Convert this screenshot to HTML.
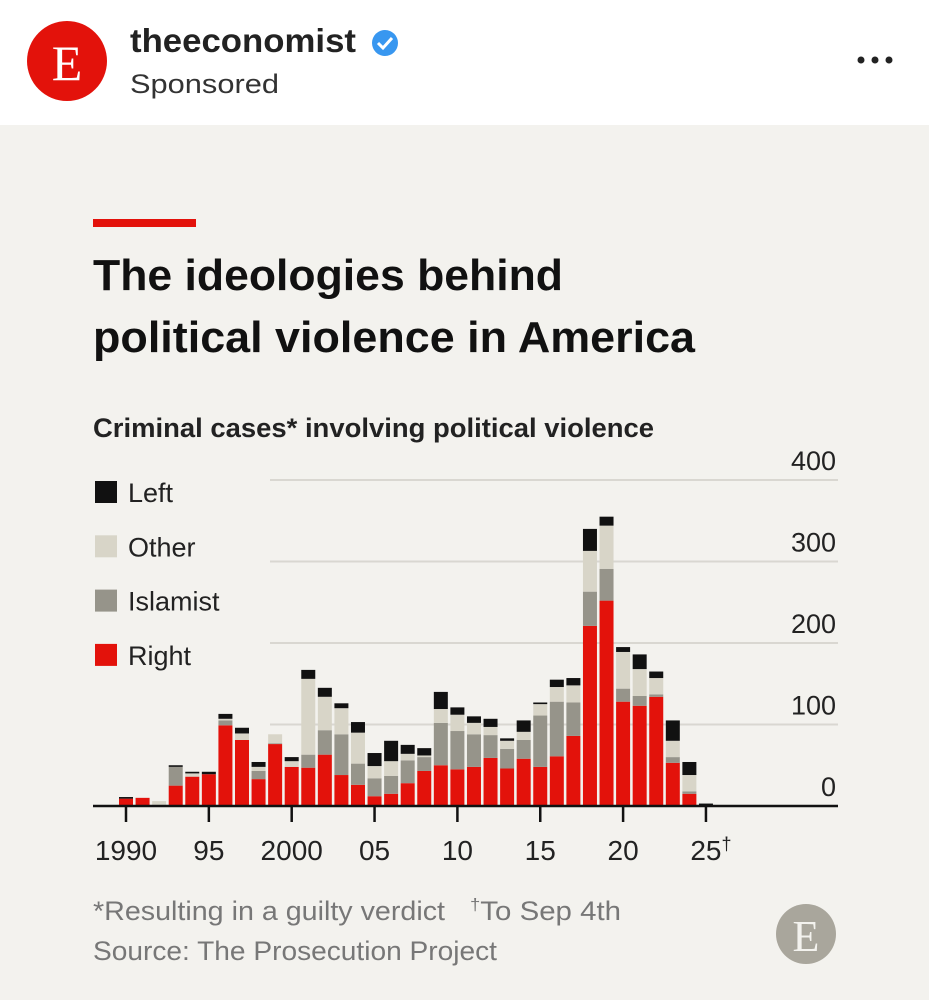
<!DOCTYPE html>
<html><head><meta charset="utf-8"><style>
html,body{margin:0;padding:0;background:#fff}
svg{display:block}
text{font-family:"Liberation Sans",sans-serif}
</style></head><body>
<svg width="929" height="1000" viewBox="0 0 929 1000" xmlns="http://www.w3.org/2000/svg">
<rect x="0" y="0" width="929" height="125" fill="#fff"/>
<g>
<circle cx="67" cy="61" r="40" fill="#e3120b"/>
<text x="67" y="80" text-anchor="middle" font-family="Liberation Serif" font-size="50" fill="#fff" style="font-family:'Liberation Serif',serif">E</text>
</g>
<text x="130" y="52" font-size="33" font-weight="bold" fill="#222" textLength="226" lengthAdjust="spacingAndGlyphs">theeconomist</text>
<g><circle cx="385" cy="43" r="13" fill="#3897f0"/><path d="M378 43 l5 5 l9 -10" stroke="#fff" stroke-width="3" fill="none"/></g>
<text x="130" y="93" font-size="27" fill="#333" textLength="149" lengthAdjust="spacingAndGlyphs">Sponsored</text>
<g fill="#222"><circle cx="861" cy="60" r="3.5"/><circle cx="875" cy="60" r="3.5"/><circle cx="889" cy="60" r="3.5"/></g>
<rect x="0" y="125" width="929" height="875" fill="#f3f2ee"/>
<rect x="93" y="219" width="103" height="8" fill="#e3120b"/>
<text x="93" y="290" font-size="44" font-weight="bold" fill="#111" textLength="470" lengthAdjust="spacingAndGlyphs">The ideologies behind</text>
<text x="93" y="352" font-size="44" font-weight="bold" fill="#111" textLength="602" lengthAdjust="spacingAndGlyphs">political violence in America</text>
<text x="93" y="437" font-size="27" font-weight="bold" fill="#222" textLength="561" lengthAdjust="spacingAndGlyphs">Criminal cases* involving political violence</text>
<g id="legend"></g>
<g id="grid"></g>
<g id="bars"></g>
<g id="xaxis"></g>
<text x="93" y="920" font-size="27" fill="#777" textLength="352" lengthAdjust="spacingAndGlyphs">*Resulting in a guilty verdict</text>
<text x="470" y="920" font-size="27" fill="#777" textLength="151" lengthAdjust="spacingAndGlyphs"><tspan font-size="17" dy="-10">†</tspan><tspan dy="10">To Sep 4th</tspan></text>
<text x="93" y="960" font-size="27" fill="#777" textLength="404" lengthAdjust="spacingAndGlyphs">Source: The Prosecution Project</text>
<g><circle cx="806" cy="934" r="30" fill="#a9a69c"/><text x="806" y="951" text-anchor="middle" font-size="44" fill="#f3f2ee" style="font-family:'Liberation Serif',serif">E</text></g>
</svg>
<script>
const years=[1990,1991,1992,1993,1994,1995,1996,1997,1998,1999,2000,2001,2002,2003,2004,2005,2006,2007,2008,2009,2010,2011,2012,2013,2014,2015,2016,2017,2018,2019,2020,2021,2022,2023,2024,2025];
const right=[9,10,0,25,36,39,99,81,33,76,48,47,63,38,26,12,15,28,43,50,45,48,59,46,58,48,61,86,221,252,128,123,134,53,15,0];
const islamist=[0,0,0,23,0,0,6,0,10,1,0,16,30,50,26,22,22,28,17,52,47,40,28,24,23,63,67,41,42,39,16,12,3,7,3,0];
const other=[0,0,6,0,4,0,2,8,5,11,7,93,41,32,38,15,18,8,2,17,20,14,10,10,10,14,18,21,50,53,45,33,20,20,20,0];
const left=[2,0,0,2,2,3,6,7,6,0,5,11,11,6,13,16,25,11,9,21,9,8,10,3,14,2,9,9,27,11,6,18,8,25,16,3];
const yTicks=[0,100,200,300,400];
const xTickYears=[1990,1995,2000,2005,2010,2015,2020,2025];
const xTickLabels=["1990","95","2000","05","10","15","20","25†"];
const legendNames=["Left","Other","Islamist","Right"];
const colors={Left:"#111111",Other:"#d8d5c8",Islamist:"#96948a",Right:"#e3120b"};
const NS="http://www.w3.org/2000/svg";
const x=yr=>126+(yr-1990)*16.57;
const y=v=>806-v*0.815;
function mk(tag,attrs,parent){const e=document.createElementNS(NS,tag);for(const k in attrs)e.setAttribute(k,attrs[k]);parent.appendChild(e);return e;}
const grid=document.getElementById('grid');
yTicks.forEach(t=>{
 if(t>0){const l=mk('line',{x1:270,x2:838,y1:y(t),y2:y(t),stroke:'#d9d7d1','stroke-width':2},grid);
 
 }
 const tx=mk('text',{x:836,y:y(t)-10,'text-anchor':'end','font-size':27,fill:'#222'},grid);
 tx.textContent=t;
 
 
});
const bars=document.getElementById('bars');
years.forEach((yr,i)=>{
 let base=0;
 [["Right",right],["Islamist",islamist],["Other",other],["Left",left]].forEach(([n,arr])=>{
  const v=arr[i]; if(!v)return;
  const r=mk('rect',{x:x(yr)-7,width:14,y:y(base+v),height:v*0.815,fill:colors[n]},bars);
  
  
  base+=v;
 });
});
const xa=document.getElementById('xaxis');
const ax=mk('line',{x1:93,x2:838,y1:806,y2:806,stroke:'#111','stroke-width':2.5},xa);


xTickYears.forEach((yr,i)=>{
 const tk=mk('line',{x1:x(yr),x2:x(yr),y1:806,y2:822,stroke:'#111','stroke-width':2.5},xa);
 
 
 const lab=xTickLabels[i];
 const tx=mk('text',{x:x(yr),y:860,'text-anchor':'middle','font-size':28,fill:'#222'},xa);
 if(lab.endsWith('†')){tx.setAttribute('x',x(yr)+5);tx.textContent=lab.slice(0,-1);const s=mk('tspan',{'font-size':18,dy:-10},tx);s.textContent='†';}
 else tx.textContent=lab;
 
 
});
const lg=document.getElementById('legend');
legendNames.forEach((n,i)=>{
 const cy=492+i*54.3;
 const r=mk('rect',{x:95,y:cy-11,width:22,height:22,fill:colors[n]},lg);
 
 
 const t=mk('text',{x:128,y:cy+10,'font-size':27,fill:'#222'},lg);
 t.textContent=n;
 
 
});
</script>
</body></html>
